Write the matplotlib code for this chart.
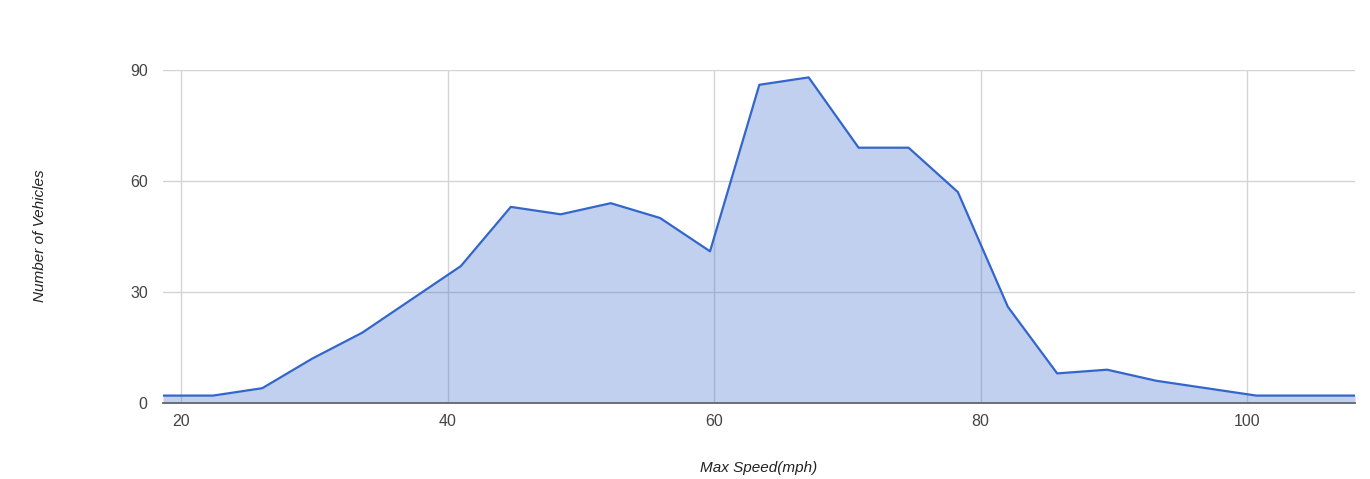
import matplotlib
matplotlib.use("Agg")
import matplotlib.pyplot as plt

speed = [18.65, 22.4, 26.1, 29.85, 33.6, 37.3, 41.0, 44.75, 48.5, 52.25,
         55.95, 59.7, 63.4, 67.1, 70.85, 74.6, 78.3, 82.05, 85.75, 89.5,
         93.2, 96.95, 100.7, 104.4, 108.1]
vehicles = [2, 2, 4, 12, 19, 28, 37, 53, 51, 54, 50, 41, 86, 88, 69, 69, 57,
            26, 8, 9, 6, 4, 2, 2, 2]
x_ticks = [20, 40, 60, 80, 100]
y_ticks = [0, 30, 60, 90]

plt.rcParams['font.family'] = ['Liberation Sans', 'DejaVu Sans']

fig = plt.figure(figsize=(13.7, 4.79), dpi=100)
ax = fig.add_axes([163/1370, 1-403/479, (1355-163)/1370, (403-70)/479])

ax.fill_between(speed, vehicles, 0, color='#3366cc', alpha=0.3, linewidth=0, zorder=2)
ax.plot(speed, vehicles, color='#3366cc', linewidth=1.6, zorder=3)

ax.set_xlim(speed[0], speed[-1])
ax.set_ylim(0, 90)
ax.set_xticks(x_ticks)
ax.set_yticks(y_ticks)
ax.grid(True, color='#d4d4d4', linewidth=1, zorder=0)
ax.set_axisbelow(True)
for s in ['top', 'right', 'left']:
    ax.spines[s].set_visible(False)
ax.spines['bottom'].set_color('#666666')
ax.spines['bottom'].set_linewidth(1.3)
ax.spines['bottom'].set_zorder(4)
ax.tick_params(length=0, labelsize=11.5, colors='#444444', pad=8)
ax.tick_params(axis='y', pad=11)

fig.text(40/1370, 1-236/479, 'Number of Vehicles', rotation=90, style='italic',
         fontsize=11, color='#222222', ha='center', va='center')
fig.text(759/1370, 1-468/479, 'Max Speed(mph)', style='italic',
         fontsize=11, color='#222222', ha='center', va='center')

fig.savefig('out.png', dpi=100)
